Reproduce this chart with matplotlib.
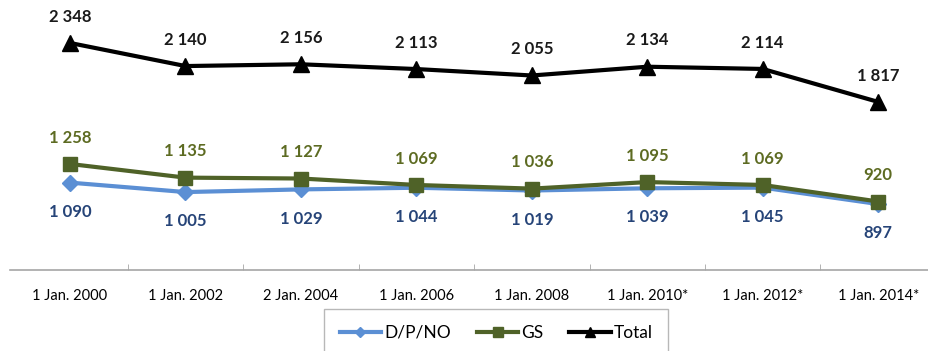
import matplotlib
matplotlib.use("Agg")
import matplotlib.pyplot as plt

plt.rcParams['font.family'] = ['Lato', 'DejaVu Sans']

dates = ["1 Jan. 2000", "1 Jan. 2002", "2 Jan. 2004", "1 Jan. 2006",
         "1 Jan. 2008", "1 Jan. 2010*", "1 Jan. 2012*", "1 Jan. 2014*"]
dpno = [1090, 1005, 1029, 1044, 1019, 1039, 1045, 897]
gs = [1258, 1135, 1127, 1069, 1036, 1095, 1069, 920]
total = [2348, 2140, 2156, 2113, 2055, 2134, 2114, 1817]


def fmt(v):
    return f"{v:,}".replace(",", " ")


W, H = 929, 351
fig = plt.figure(figsize=(W / 100, H / 100), dpi=100)
ax = fig.add_axes([10 / W, 81 / H, 1 - 10 / W, 270 / H])
x = list(range(len(dates)))

blue = "#5b8fd4"
green = "#4f6228"
ax.plot(x, dpno, color=blue, lw=3, marker="D", ms=8, label="D/P/NO", zorder=3)
ax.plot(x, gs, color=green, lw=3, marker="s", ms=10, label="GS", zorder=4)
ax.plot(x, total, color="black", lw=3, marker="^", ms=11, label="Total", zorder=5)

lab_font = dict(fontsize=12, fontweight="bold", ha="center", va="center")
for xi, v in zip(x, total):
    ax.annotate(fmt(v), (xi, v), xytext=(0, 19), textcoords="offset points",
                color="#1a1a1a", **lab_font)
for xi, v in zip(x, gs):
    ax.annotate(fmt(v), (xi, v), xytext=(0, 19), textcoords="offset points",
                color="#5d6b22", **lab_font)
for xi, v in zip(x, dpno):
    ax.annotate(fmt(v), (xi, v), xytext=(0, -21), textcoords="offset points",
                color="#264478", **lab_font)

ax.set_xlim(-0.52, 7.44)
ax.set_ylim(303, 2735)
ax.set_yticks([])
for s in ["top", "right", "left"]:
    ax.spines[s].set_visible(False)
ax.spines["bottom"].set_color("#a6a6a6")
ax.spines["bottom"].set_linewidth(1.2)

ax.set_xticks([i + 0.5 for i in x[:-1]], minor=True)
ax.set_xticks(x)
ax.set_xticklabels(dates, fontsize=10.5)
ax.tick_params(axis="x", which="major", length=0, pad=14)
ax.tick_params(axis="x", which="minor", length=4, color="#a6a6a6", direction="in")

leg = fig.legend(loc="lower center", bbox_to_anchor=(496 / W, -14 / H), ncol=3,
                 fontsize=12.5, frameon=True, fancybox=False, edgecolor="#a6a6a6",
                 handlelength=2.4, handletextpad=0.15, columnspacing=1.5,
                 borderpad=0.9, markerscale=0.7)
leg.get_frame().set_linewidth(1.0)

fig.savefig("out.png", dpi=100)
